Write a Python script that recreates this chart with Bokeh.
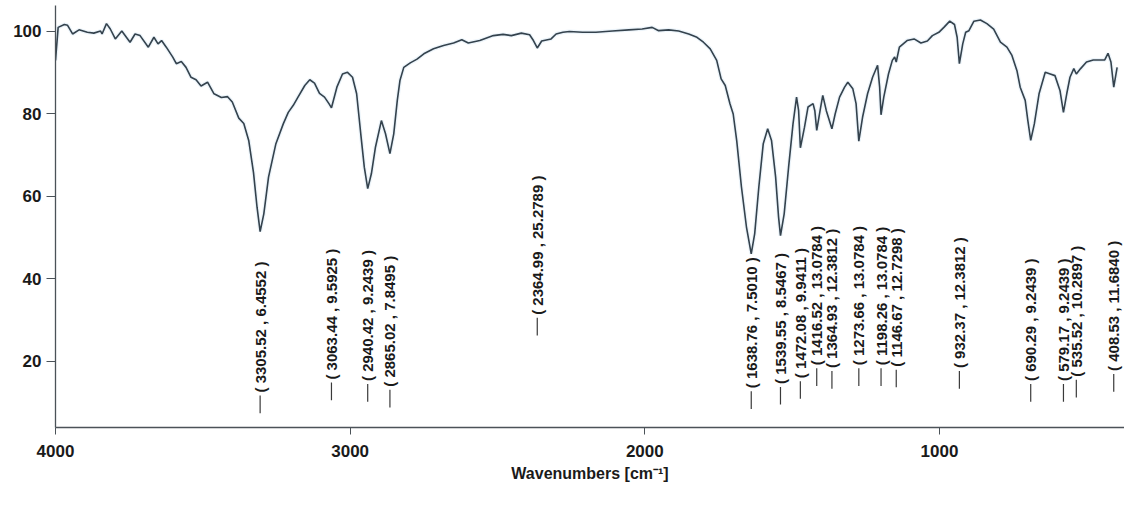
import numpy as np
from bokeh.plotting import figure
from bokeh.models import Range1d, FixedTicker, ColumnDataSource
from bokeh.embed import file_html
from bokeh.resources import INLINE
from bokeh.core.properties import value

# ---- spectrum (wavenumber in cm^-1, transmittance in %) ----
wavenumber = [
    4000, 3991, 3970, 3959, 3942, 3920, 3892, 3870, 3847, 3842, 3827, 3814, 3797, 3775,
    3747, 3730, 3713, 3685, 3666, 3652, 3640, 3624, 3602, 3590, 3573, 3557, 3540, 3523,
    3506, 3484, 3462, 3437, 3416, 3400, 3378, 3361, 3344, 3328, 3316, 3305.5, 3293, 3277,
    3252, 3227, 3210, 3193, 3177, 3154, 3137, 3121, 3104, 3087, 3072, 3063.4, 3045, 3026,
    3009, 2992, 2978, 2964, 2952, 2940.4, 2928, 2914, 2894, 2880, 2865, 2852, 2840, 2831,
    2818, 2796, 2773, 2750, 2717, 2683, 2649, 2621, 2599, 2560, 2514, 2481, 2453, 2419,
    2391, 2378, 2365, 2350, 2318, 2301, 2278, 2256, 2211, 2166, 2110, 2054, 2009, 1975,
    1953, 1919, 1885, 1851, 1823, 1801, 1778, 1756, 1741, 1727, 1711, 1700, 1688, 1672,
    1655, 1638.8, 1627, 1613, 1598, 1583, 1570, 1556, 1546, 1539.5, 1527, 1512, 1497, 1485,
    1478, 1472, 1458, 1446, 1429, 1423, 1416.5, 1403, 1396, 1384, 1365, 1354, 1339, 1322,
    1311, 1294, 1283, 1273.7, 1261, 1244, 1227, 1210, 1203, 1198.3, 1189, 1173, 1160, 1152,
    1146.7, 1136, 1110, 1086, 1063, 1041, 1024, 1002, 985, 965, 949, 940, 932.4, 921,
    911, 900, 883, 861, 839, 816, 793, 771, 754, 737, 726, 709, 700, 690.3,
    678, 662, 641, 624, 608, 591, 579.2, 568, 557, 544, 535.5, 521, 501, 478,
    456, 439, 428, 418, 408.5, 397,
]
transmittance = [
    93.0, 101.0, 101.7, 101.5, 99.4, 100.4, 99.8, 99.6, 100.1, 99.4, 101.9, 100.6, 98.2, 100.1,
    97.4, 99.4, 99.0, 96.2, 98.6, 97.0, 97.8, 96.2, 93.8, 92.2, 92.7, 91.3, 88.9, 88.3,
    86.8, 87.7, 84.9, 84.0, 84.2, 82.9, 79.0, 77.7, 73.5, 65.8, 57.4, 51.5, 55.8, 64.7,
    72.8, 77.6, 80.4, 82.1, 84.1, 86.9, 88.3, 87.5, 85.0, 84.1, 82.5, 81.5, 86.5, 89.7,
    90.1, 88.9, 84.9, 75.2, 67.1, 61.9, 65.5, 72.0, 78.4, 75.2, 70.4, 75.2, 83.3, 88.1,
    91.3, 92.4, 93.3, 94.6, 95.8, 96.6, 97.2, 98.0, 97.2, 97.8, 99.0, 99.3, 99.0, 99.6,
    99.2, 97.8, 96.0, 97.7, 98.2, 99.4, 99.8, 100.0, 99.8, 99.8, 100.1, 100.4, 100.6, 101.0,
    100.2, 100.4, 100.1, 99.4, 98.6, 97.4, 95.8, 93.0, 88.5, 86.9, 82.5, 80.0, 73.5, 62.3,
    52.6, 46.1, 51.0, 62.3, 72.8, 76.4, 73.6, 64.7, 55.0, 50.5, 55.8, 67.1, 77.6, 84.1,
    80.8, 71.8, 76.8, 81.7, 82.5, 80.8, 76.0, 81.7, 84.5, 80.8, 76.4, 80.0, 84.1, 86.5,
    87.7, 86.1, 82.5, 73.4, 79.2, 84.9, 88.9, 91.8, 86.5, 79.8, 84.1, 89.7, 93.0, 93.8,
    92.6, 96.2, 97.8, 98.2, 97.2, 97.7, 99.0, 99.8, 101.0, 102.5, 101.7, 98.6, 92.2, 97.0,
    99.8, 100.2, 102.5, 102.8, 101.9, 100.6, 97.4, 96.2, 94.2, 90.5, 86.5, 83.3, 78.4, 73.6,
    77.6, 84.9, 90.1, 89.7, 89.3, 85.7, 80.4, 84.9, 88.9, 91.0, 89.7, 91.0, 92.6, 93.1,
    93.1, 93.1, 94.7, 92.6, 86.5, 91.3,
]

# ---- peak annotations (position, value printed in the label) ----
peak_wn = [3305.52, 3063.44, 2940.42, 2865.02, 2364.99, 1638.76, 1539.55, 1472.08, 1416.52,
           1364.93, 1273.66, 1198.26, 1146.67, 932.37, 690.29, 579.17, 535.52, 408.53]
peak_val = [6.4552, 9.5925, 9.2439, 7.8495, 25.2789, 7.5010, 8.5467, 9.9411, 13.0784,
            12.3812, 13.0784, 13.0784, 12.7298, 12.3812, 9.2439, 9.2439, 10.2897, 11.6840]

x_ticks = [4000, 3000, 2000, 1000]
y_ticks = [20, 40, 60, 80, 100]
x_title = "Wavenumbers [cm\u207b\u00b9]"

FONT = "Liberation Sans"
INK = "#1a1a1a"
AXIS = "#4b5258"

p = figure(width=1124, height=508,
           x_range=Range1d(4000, 372), y_range=Range1d(4, 106.3),
           output_backend="svg", toolbar_location=None,
           min_border_left=55, min_border_right=0, min_border_top=5, min_border_bottom=81)
p.outline_line_color = None
p.xgrid.grid_line_color = None
p.ygrid.grid_line_color = None
p.background_fill_color = "white"
p.border_fill_color = "white"

for ax in (p.xaxis, p.yaxis):
    ax.axis_line_color = AXIS
    ax.axis_line_width = 1.3
    ax.major_tick_line_color = AXIS
    ax.major_tick_in = 0
    ax.minor_tick_line_color = None
    ax.major_label_text_font = FONT
    ax.major_label_text_font_style = "bold"
    ax.major_label_text_font_size = "17px"
    ax.major_label_text_color = INK

p.xaxis.ticker = FixedTicker(ticks=x_ticks)
p.yaxis.ticker = FixedTicker(ticks=y_ticks)
p.xaxis.major_tick_out = 7
p.yaxis.major_tick_out = 9
p.xaxis.major_label_standoff = 10
p.yaxis.major_label_standoff = 5
p.xaxis.axis_label = x_title
p.xaxis.axis_label_text_font = FONT
p.xaxis.axis_label_text_font_style = "bold"
p.xaxis.axis_label_text_font_size = "16px"
p.xaxis.axis_label_text_color = INK
p.xaxis.axis_label_standoff = 5

spec = ColumnDataSource(dict(x=wavenumber, y=transmittance))
p.line("x", "y", source=spec, line_color="#c8e0f0", line_width=4, line_alpha=0.35)
p.line("x", "y", source=spec, line_color="#34424d", line_width=1.6)

lab = ColumnDataSource(dict(
    x=peak_wn,
    y0=[v + 1.0 for v in peak_val],
    y1=[v + 5.3 for v in peak_val],
    t=[f"( {w:.2f} , {v:.4f} )" for w, v in zip(peak_wn, peak_val)],
))
p.segment(x0="x", y0="y0", x1="x", y1="y1", source=lab, line_color="#3a3a3a", line_width=1.2)
p.text(x="x", y="y1", text="t", source=lab, angle=np.pi / 2,
       text_align="left", text_baseline="middle", y_offset=-3,
       text_font=value(FONT), text_font_style="bold", text_font_size="15px",
       text_color=INK)

open("out.html", "w").write(file_html(p, INLINE))
